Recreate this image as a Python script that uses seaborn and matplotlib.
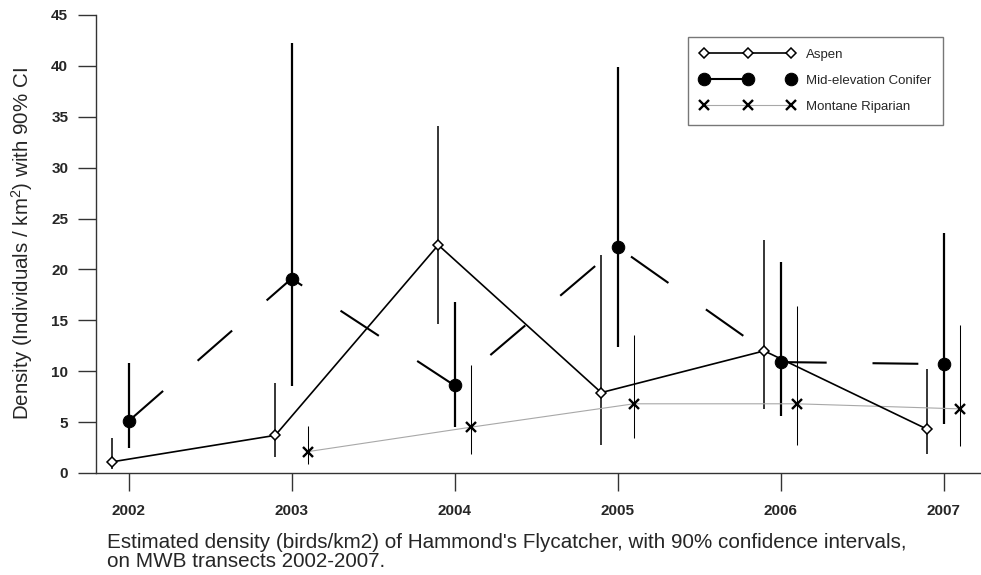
import matplotlib
matplotlib.use("Agg")
import matplotlib.pyplot as plt
import seaborn as sns
import pandas as pd

# ---- data ----
years = [2002, 2003, 2004, 2005, 2006, 2007]
aspen = [1.1, 3.7, 22.4, 7.9, 12.0, 4.3]
aspen_lo = [0.4, 1.6, 14.6, 2.8, 6.3, 1.9]
aspen_hi = [3.4, 8.8, 34.1, 21.4, 22.9, 10.2]
conifer = [5.1, 19.1, 8.6, 22.2, 10.9, 10.7]
conifer_lo = [2.5, 8.5, 4.5, 12.4, 5.6, 4.8]
conifer_hi = [10.8, 42.2, 16.8, 39.9, 20.7, 23.6]
rip_years = [2003, 2004, 2005, 2006, 2007]
riparian = [2.1, 4.5, 6.8, 6.8, 6.3]
rip_lo = [0.9, 1.9, 3.4, 2.8, 2.7]
rip_hi = [4.6, 10.6, 13.6, 16.4, 14.5]
yticks = [0, 5, 10, 15, 20, 25, 30, 35, 40, 45]
ylabel = "Density (Individuals / km$^2$) with 90% CI"
caption_lines = ["Estimated density (birds/km2) of Hammond's Flycatcher, with 90% confidence intervals,",
                 "on MWB transects 2002-2007."]

sns.set_theme(style="white")
plt.rcParams["font.family"] = ["Liberation Sans", "DejaVu Sans"]
plt.rcParams["lines.scale_dashes"] = False
plt.rcParams["mathtext.fontset"] = "custom"
plt.rcParams["mathtext.rm"] = "Liberation Sans"
plt.rcParams["mathtext.it"] = "Liberation Sans"

fig = plt.figure(figsize=(9.81, 5.75), dpi=100)
ax = fig.add_axes([96 / 981, 1 - 473 / 575, 885 / 981, 458 / 575])

OFF = 0.1
df_a = pd.DataFrame({"x": [y - OFF for y in years], "v": aspen, "lo": aspen_lo, "hi": aspen_hi})
df_c = pd.DataFrame({"x": years, "v": conifer, "lo": conifer_lo, "hi": conifer_hi})
df_r = pd.DataFrame({"x": [y + OFF for y in rip_years], "v": riparian, "lo": rip_lo, "hi": rip_hi})

# error bars
ax.vlines(df_a["x"], df_a["lo"], df_a["hi"], color="black", lw=1.1, zorder=2)
ax.vlines(df_c["x"], df_c["lo"], df_c["hi"], color="black", lw=1.6, zorder=2)
ax.vlines(df_r["x"], df_r["lo"], df_r["hi"], color="black", lw=0.75, zorder=2)

sns.lineplot(data=df_r, x="x", y="v", ax=ax, color="#a8a8a8", lw=0.8,
             marker="x", markersize=7.5, mec="black", mew=1.7,
             label="Montane Riparian", zorder=3)
sns.lineplot(data=df_a, x="x", y="v", ax=ax, color="black", lw=1.2,
             marker="D", markersize=5.2, mfc="white", mec="black", mew=1.1,
             label="Aspen", zorder=4)
sns.lineplot(data=df_c, x="x", y="v", ax=ax, color="black", lw=1.5,
             marker="o", markersize=9, mfc="black", mec="black",
             label="Mid-elevation Conifer", zorder=5)
ax.lines[-1].set_dashes((33, 33))

ax.set_xlim(2001.8, 2007.23)
ax.set_ylim(0, 45)
ax.set_xticks(years)
ax.set_xticklabels([str(y) for y in years])
ax.set_yticks(yticks)
ax.set_yticklabels([str(t) for t in yticks])
ax.set_xlabel("")
yl = ax.set_ylabel(ylabel, fontsize=13, labelpad=12)

for s in ["top", "right"]:
    ax.spines[s].set_visible(False)
for s in ["left", "bottom"]:
    ax.spines[s].set_color("#333333")
    ax.spines[s].set_linewidth(1.0)
ax.tick_params(axis="both", direction="out", length=13, width=1.0, color="#333333",
               labelsize=11, pad=7, left=True, bottom=True)
ax.tick_params(axis="x", pad=9)
for lab in ax.get_xticklabels() + ax.get_yticklabels():
    lab.set_fontweight("bold")

h, l = ax.get_legend_handles_labels()
order = [l.index("Aspen"), l.index("Mid-elevation Conifer"), l.index("Montane Riparian")]
leg = ax.legend([h[i] for i in order], [l[i] for i in order], loc="upper right",
                bbox_to_anchor=(0.957, 0.952), borderaxespad=0, numpoints=3,
                handlelength=7.2, handletextpad=0.8, labelspacing=1.03,
                fontsize=9.5, frameon=True, fancybox=False, edgecolor="#555555",
                borderpad=0.9)
leg.get_frame().set_linewidth(1.0)

cap1 = fig.text(107 / 981, 1 - 548 / 575, caption_lines[0], fontsize=13.5, va="baseline", ha="left")
cap2 = fig.text(107 / 981, 1 - 567 / 575, caption_lines[1], fontsize=13.5, va="baseline", ha="left")

# fit text sizes to the reference extents
fig.canvas.draw()
r = fig.canvas.get_renderer()
w = cap1.get_window_extent(r).width
fs = 13.5 * 796 / w
cap1.set_fontsize(fs)
cap2.set_fontsize(fs)
hgt = yl.get_window_extent(r).height
yl.set_fontsize(13 * 352 / hgt)

fig.savefig("out.png", dpi=100)
